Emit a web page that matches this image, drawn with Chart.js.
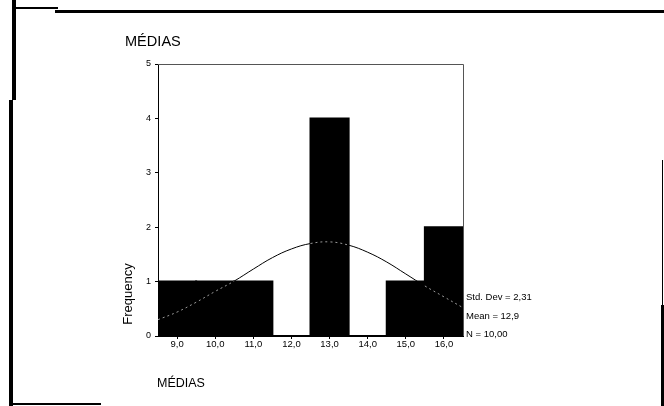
<!DOCTYPE html>
<html>
<head>
<meta charset="utf-8">
<script src="https://cdn.jsdelivr.net/npm/chart.js@4.4.1/dist/chart.umd.min.js"></script>
<style>
  html, body { margin: 0; padding: 0; background: #fff; }
  #wrap { position: relative; width: 664px; height: 406px; overflow: hidden; background: #fff;
          font-family: "Liberation Sans", Arial, Helvetica, sans-serif; color: #000; }
  canvas { position: absolute; left: 0; top: 0; }
  .txt { position: absolute; white-space: nowrap; line-height: 1; }
  .ln { position: absolute; background: #000; }
</style>
</head>
<body>
<div id="wrap">
  <canvas id="c" width="664" height="406"></canvas>
  <div class="txt" id="title" style="left:125px; top:33px; font-size:15px; transform:scaleX(0.97); transform-origin:left;"></div>
  <div class="txt" id="ytitle" style="left:127px; top:294px; font-size:13px; transform:translate(-50%,-50%) rotate(-90deg);"></div>
  <div class="txt" id="xtitle" style="left:157px; top:377px; font-size:12.5px;"></div>
  <div class="txt" id="stats" style="left:466px; top:288px; font-size:9.5px; line-height:18.5px;"></div>
  <!-- scan frame -->
  <div class="ln" style="left:12px; top:7px; width:46px; height:2px;"></div>
  <div class="ln" style="left:55px; top:10px; width:609px; height:3px;"></div>
  <div class="ln" style="left:12px; top:0px; width:4px; height:100px;"></div>
  <div class="ln" style="left:9px; top:100px; width:4px; height:306px;"></div>
  <div class="ln" style="left:9px; top:403px; width:92px; height:2px;"></div>
  <div class="ln" style="left:662px; top:160px; width:1px; height:146px;"></div>
  <div class="ln" style="left:661px; top:305px; width:3px; height:101px;"></div>
</div>
<script>
// ---- data ----
const categories   = [9, 10, 11, 12, 13, 14, 15, 16];
const frequencies  = [1, 1, 1, 0, 4, 0, 1, 2];
const xTickLabels  = ['9,0', '10,0', '11,0', '12,0', '13,0', '14,0', '15,0', '16,0'];
const yTickLabels  = ['0', '1', '2', '3', '4', '5'];
const curveX       = [8.5, 9, 9.5, 10, 10.5, 11, 11.5, 12, 12.5, 13, 13.5, 14, 14.5, 15, 15.5, 16, 16.5];
const curveY       = [0.30, 0.44, 0.62, 0.82, 1.01, 1.23, 1.44, 1.60, 1.70, 1.73, 1.67, 1.54, 1.36, 1.14, 0.92, 0.72, 0.52];
const titleText    = 'MÉDIAS';
const xAxisTitle   = 'MÉDIAS';
const yAxisTitle   = 'Frequency';
const statsLines   = ['Std. Dev = 2,31', 'Mean = 12,9', 'N = 10,00'];

document.getElementById('title').textContent = titleText;
document.getElementById('xtitle').textContent = xAxisTitle;
document.getElementById('ytitle').textContent = yAxisTitle;
document.getElementById('stats').innerHTML = statsLines.map(s => '<div>' + s + '</div>').join('');

const barData = categories.map((c, i) => ({ x: c, y: frequencies[i] }));
const curveData = curveX.map((x, i) => ({ x: x, y: curveY[i] }));

function barHeightAt(x) {
  const idx = categories.indexOf(Math.round(x));
  return idx >= 0 ? frequencies[idx] : 0;
}
function insideBar(ctx) {
  const mx = (ctx.p0.parsed.x + ctx.p1.parsed.x) / 2;
  const my = (ctx.p0.parsed.y + ctx.p1.parsed.y) / 2;
  return my < barHeightAt(mx);
}

const framePlugin = {
  id: 'frame',
  afterDatasetsDraw(chart) {
    const a = chart.chartArea, ctx = chart.ctx;
    ctx.save();
    ctx.strokeStyle = '#555';
    ctx.lineWidth = 1;
    ctx.beginPath();
    ctx.moveTo(a.left, a.top + 0.5);
    ctx.lineTo(a.right + 0.5, a.top + 0.5);
    ctx.lineTo(a.right + 0.5, a.bottom);
    ctx.stroke();
    ctx.restore();
  }
};

const FONT = '"Liberation Sans", Arial, Helvetica, sans-serif';

new Chart(document.getElementById('c'), {
  type: 'bar',
  data: {
    datasets: [
      {
        type: 'line',
        data: curveData,
        borderColor: '#000',
        borderWidth: 1,
        pointRadius: 0,
        tension: 0.4,
        fill: false,
        order: 0,
        segment: {
          borderColor: ctx => insideBar(ctx) ? 'rgba(255,255,255,0.6)' : '#000',
          borderDash: ctx => insideBar(ctx) ? [2, 3] : []
        }
      },
      {
        type: 'bar',
        data: barData,
        backgroundColor: '#000',
        borderWidth: 0,
        inflateAmount: 1,
        barPercentage: 1,
        categoryPercentage: 1,
        order: 1
      }
    ]
  },
  options: {
    responsive: false,
    animation: false,
    devicePixelRatio: 1,
    layout: { padding: { left: 0, top: 64, right: 201, bottom: 55 } },
    plugins: { legend: { display: false }, tooltip: { enabled: false }, title: { display: false } },
    scales: {
      x: {
        type: 'linear',
        offset: false,
        min: 8.5,
        max: 16.5,
        afterBuildTicks: s => { s.ticks = categories.map(v => ({ value: v })); },
        afterFit: s => { s.height = 15; },
        grid: { display: true, offset: false, drawOnChartArea: false, drawTicks: true, tickLength: 3, color: '#000' },
        border: { display: true, color: '#000', width: 1 },
        ticks: {
          autoSkip: false, maxRotation: 0, padding: 0, color: '#000',
          font: { family: FONT, size: 9.5 },
          callback: (v) => { const i = categories.indexOf(v); return i >= 0 ? xTickLabels[i] : ''; }
        }
      },
      y: {
        min: 0,
        max: 5,
        afterFit: s => { s.width = 158; },
        grid: { display: true, drawOnChartArea: false, drawTicks: true, tickLength: 3, color: '#000' },
        border: { display: true, color: '#000', width: 1 },
        ticks: {
          stepSize: 1, padding: 4, color: '#000',
          font: { family: FONT, size: 9 },
          callback: (v) => yTickLabels[v] !== undefined ? yTickLabels[v] : ''
        }
      }
    }
  },
  plugins: [framePlugin]
});
</script>
</body>
</html>
